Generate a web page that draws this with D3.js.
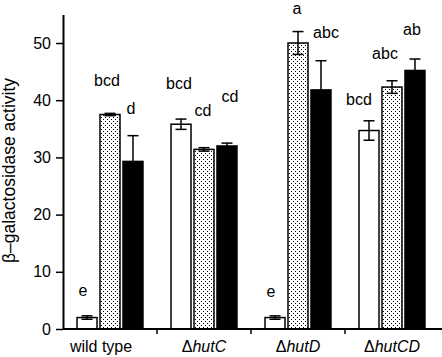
<!DOCTYPE html>
<html>
<head>
<meta charset="utf-8">
<script src="https://cdn.jsdelivr.net/npm/d3@7"></script>
<style>
  body { margin: 0; background: #fff; }
  svg { display: block; font-family: "Liberation Sans", Arial, sans-serif; }
</style>
</head>
<body>
<div id="chart"></div>
<script>
// strains on the x axis
const strains = ['wild type', 'hutC', 'hutD', 'hutCD'];
const strainIsMutant = [false, true, true, true];
const series = ['white', 'dotted', 'black'];

// beta-galactosidase activity, one array per bar type
const whiteVals = [2.0, 35.8, 2.0, 34.7];
const dottedVals = [37.5, 31.4, 50.0, 42.3];
const blackVals = [29.3, 32.0, 41.8, 45.2];

// error (+/-)
const whiteErr = [0.3, 0.9, 0.3, 1.7];
const dottedErr = [0.2, 0.3, 2.0, 1.1];
const blackErr = [4.5, 0.5, 5.1, 2.0];

// significance letters and the height they sit at (activity units)
const whiteSig = ['e', 'bcd', 'e', 'bcd'];
const dottedSig = ['bcd', 'cd', 'a', 'abc'];
const blackSig = ['d', 'cd', 'abc', 'ab'];
const whiteSigAt = [6.8, 43.0, 6.5, 40.2];
const dottedSigAt = [43.4, 38.3, 56.0, 48.2];
const blackSigAt = [38.5, 40.7, 51.8, 52.4];

const yTicks = [0, 10, 20, 30, 40, 50];

// small horizontal nudges for the letters (px), as in the original figure
const sigNudge = [[-4, -3, -2], [-2, -1, 3], [-4, -1, 5], [-10, -7, -3]];

const width = 442, height = 357;
const plotLeft = 63, plotRight = 439, plotTop = 14.4, plotBottom = 329;

const svg = d3.select('#chart').append('svg')
  .attr('width', width)
  .attr('height', height);

// dotted fill
const defs = svg.append('defs');
const pat = defs.append('pattern')
  .attr('id', 'dots')
  .attr('patternUnits', 'userSpaceOnUse')
  .attr('width', 4).attr('height', 4);
pat.append('rect').attr('width', 4).attr('height', 4).attr('fill', '#fff');
pat.append('rect').attr('x', 1).attr('y', 1).attr('width', 1).attr('height', 1).attr('fill', '#000');
pat.append('rect').attr('x', 3).attr('y', 3).attr('width', 1).attr('height', 1).attr('fill', '#000');

const x = d3.scaleBand().domain(strains).range([plotLeft, plotRight]).padding(0);
const xInner = d3.scaleBand().domain(series).range([0, x.bandwidth()])
  .paddingInner(0.13).paddingOuter(0.61);
const y = d3.scaleLinear().domain([0, 55]).range([plotBottom, plotTop]);

const fills = { white: '#fff', dotted: 'url(#dots)', black: '#000' };
const vals = { white: whiteVals, dotted: dottedVals, black: blackVals };
const errs = { white: whiteErr, dotted: dottedErr, black: blackErr };
const sigs = { white: whiteSig, dotted: dottedSig, black: blackSig };
const sigAt = { white: whiteSigAt, dotted: dottedSigAt, black: blackSigAt };

const bars = [];
strains.forEach((s, i) => {
  series.forEach((k, j) => {
    bars.push({ strain: s, i, j, key: k, value: vals[k][i], err: errs[k][i], sig: sigs[k][i], sigY: sigAt[k][i] });
  });
});

const bx = d => x(d.strain) + xInner(d.key);
const bw = xInner.bandwidth();

// bars
svg.append('g').selectAll('rect')
  .data(bars)
  .enter().append('rect')
  .attr('x', bx)
  .attr('y', d => y(d.value))
  .attr('width', bw)
  .attr('height', d => y(0) - y(d.value))
  .attr('fill', d => fills[d.key])
  .attr('stroke', '#000')
  .attr('stroke-width', 1.5);

// error bars
const eb = svg.append('g').attr('stroke', '#000').attr('stroke-width', 1.5);
const capW = 5.5;
bars.forEach(d => {
  const cx = bx(d) + bw / 2;
  eb.append('line').attr('x1', cx).attr('x2', cx)
    .attr('y1', y(d.value - d.err)).attr('y2', y(d.value + d.err));
  [d.value - d.err, d.value + d.err].forEach(v => {
    eb.append('line').attr('x1', cx - capW).attr('x2', cx + capW)
      .attr('y1', y(v)).attr('y2', y(v));
  });
});

// significance letters
svg.append('g').selectAll('text')
  .data(bars)
  .enter().append('text')
  .attr('x', d => bx(d) + bw / 2 + sigNudge[d.i][d.j])
  .attr('y', d => y(d.sigY))
  .attr('dy', '0.35em')
  .attr('text-anchor', 'middle')
  .attr('font-size', 16)
  .text(d => d.sig);

// y axis
const yAxis = svg.append('g')
  .attr('transform', `translate(${plotLeft},0)`)
  .call(d3.axisLeft(y).tickValues(yTicks).tickSize(7).tickPadding(5).tickSizeOuter(0));
yAxis.select('.domain').attr('stroke-width', 2);
yAxis.selectAll('.tick line').attr('stroke-width', 1.5);
yAxis.selectAll('.tick text').attr('font-size', 16).attr('fill', '#000')
  .style('font-family', '"Liberation Sans", Arial, sans-serif');

// x axis: line with ticks between strains
svg.append('line')
  .attr('x1', plotLeft).attr('x2', width)
  .attr('y1', y(0)).attr('y2', y(0))
  .attr('stroke', '#000').attr('stroke-width', 2);
svg.append('g').selectAll('line')
  .data(strains.slice(1))
  .enter().append('line')
  .attr('x1', d => x(d)).attr('x2', d => x(d))
  .attr('y1', y(0)).attr('y2', y(0) + 5)
  .attr('stroke', '#000').attr('stroke-width', 1.5);

// strain labels
const lab = svg.append('g').selectAll('text')
  .data(strains)
  .enter().append('text')
  .attr('x', (d, i) => x(d) + x.bandwidth() / 2 - (i === 0 ? 9 : 0))
  .attr('y', 352)
  .attr('text-anchor', 'middle')
  .attr('font-size', 16);
lab.each(function(d, i) {
  const t = d3.select(this);
  if (strainIsMutant[i]) {
    t.append('tspan').text('\u0394');
    t.append('tspan').attr('font-style', 'italic').text(d);
  } else {
    t.text(d);
  }
});

// y label
svg.append('text')
  .attr('transform', `translate(15,${(73 + 268) / 2}) rotate(-90)`)
  .attr('text-anchor', 'middle')
  .attr('font-size', 17.5)
  .text('\u03b2\u2013galactosidase activity');
</script>
</body>
</html>
